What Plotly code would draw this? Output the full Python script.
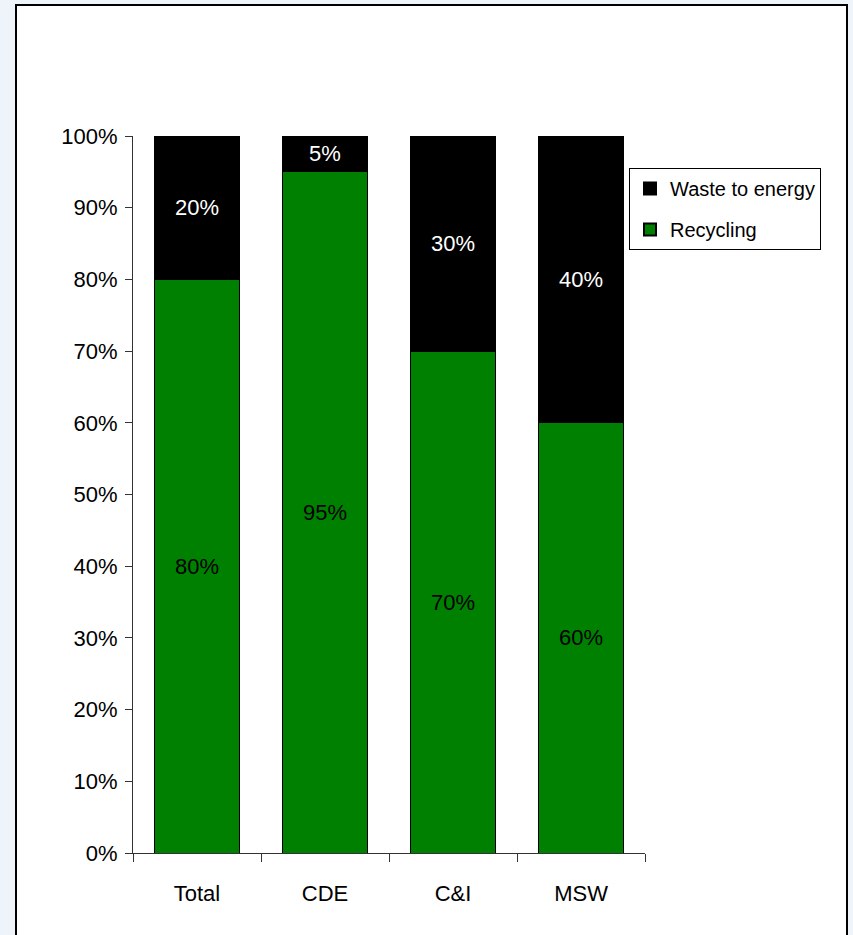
import plotly.graph_objects as go

categories = ["Total", "CDE", "C&I", "MSW"]
recycling = [0.80, 0.95, 0.70, 0.60]
waste_to_energy = [0.20, 0.05, 0.30, 0.40]
recycling_labels = ["80%", "95%", "70%", "60%"]
wte_labels = ["20%", "5%", "30%", "40%"]
y_ticks = [0, 0.1, 0.2, 0.3, 0.4, 0.5, 0.6, 0.7, 0.8, 0.9, 1.0]
y_tick_labels = ["0%", "10%", "20%", "30%", "40%", "50%", "60%", "70%", "80%", "90%", "100%"]

FONT = "Liberation Sans, Arial"
FS = 22

W, H = 853, 935
L, R, T, B = 133, 208, 136, 82
pw, ph = W - L - R, H - T - B

def px_x(p):
    return (p - L) / pw

def px_y(p):
    return (H - B - p) / ph

fig = go.Figure()
fig.add_trace(go.Bar(
    name="Recycling", x=categories, y=recycling, text=recycling_labels,
    texttemplate="%{text}", textposition="inside", insidetextanchor="middle",
    constraintext="none", textangle=0, legendgroup="r", legendrank=2,
    insidetextfont=dict(family=FONT, size=FS, color="black"),
    marker=dict(color="#008000", line=dict(color="black", width=1)),
    hoverinfo="skip",
))
fig.add_trace(go.Bar(
    name="Waste to energy", x=categories, y=waste_to_energy, text=wte_labels,
    texttemplate="%{text}", textposition="inside", insidetextanchor="middle",
    constraintext="none", textangle=0, legendgroup="w", legendrank=1,
    insidetextfont=dict(family=FONT, size=FS, color="white"),
    marker=dict(color="black", line=dict(color="black", width=1)),
    hoverinfo="skip",
))

fig.add_shape(type="rect", xref="paper", yref="paper",
              x0=px_x(16), x1=px_x(847), y0=px_y(950), y1=px_y(5),
              fillcolor="white", line=dict(color="black", width=2), layer="below")

fig.update_layout(
    width=W, height=H,
    margin=dict(l=L, r=R, t=T, b=B),
    barmode="stack", bargap=0.33,
    paper_bgcolor="#eef4fa", plot_bgcolor="white",
    showlegend=True,
    legend=dict(x=px_x(629), y=px_y(168), xanchor="left", yanchor="top",
                bgcolor="white", bordercolor="black", borderwidth=1,
                traceorder="grouped", tracegroupgap=12,
                font=dict(family=FONT, size=20, color="black"),
                itemsizing="constant"),
    xaxis=dict(type="category", range=[-0.5, 3.5], showline=True, linecolor="#333",
               linewidth=1, ticks="outside", tickson="boundaries", ticklen=8,
               tickcolor="#333", showgrid=False, ticklabelstandoff=21,
               tickfont=dict(family=FONT, size=FS, color="black"), fixedrange=True),
    yaxis=dict(range=[0, 1], tickvals=y_ticks, ticktext=y_tick_labels, showline=True,
               linecolor="#333", linewidth=1, ticks="outside", ticklen=7,
               tickcolor="#333", showgrid=False, zeroline=False, ticklabelstandoff=3,
               tickfont=dict(family=FONT, size=FS, color="black"), fixedrange=True),
)

fig.write_html("out.html")
